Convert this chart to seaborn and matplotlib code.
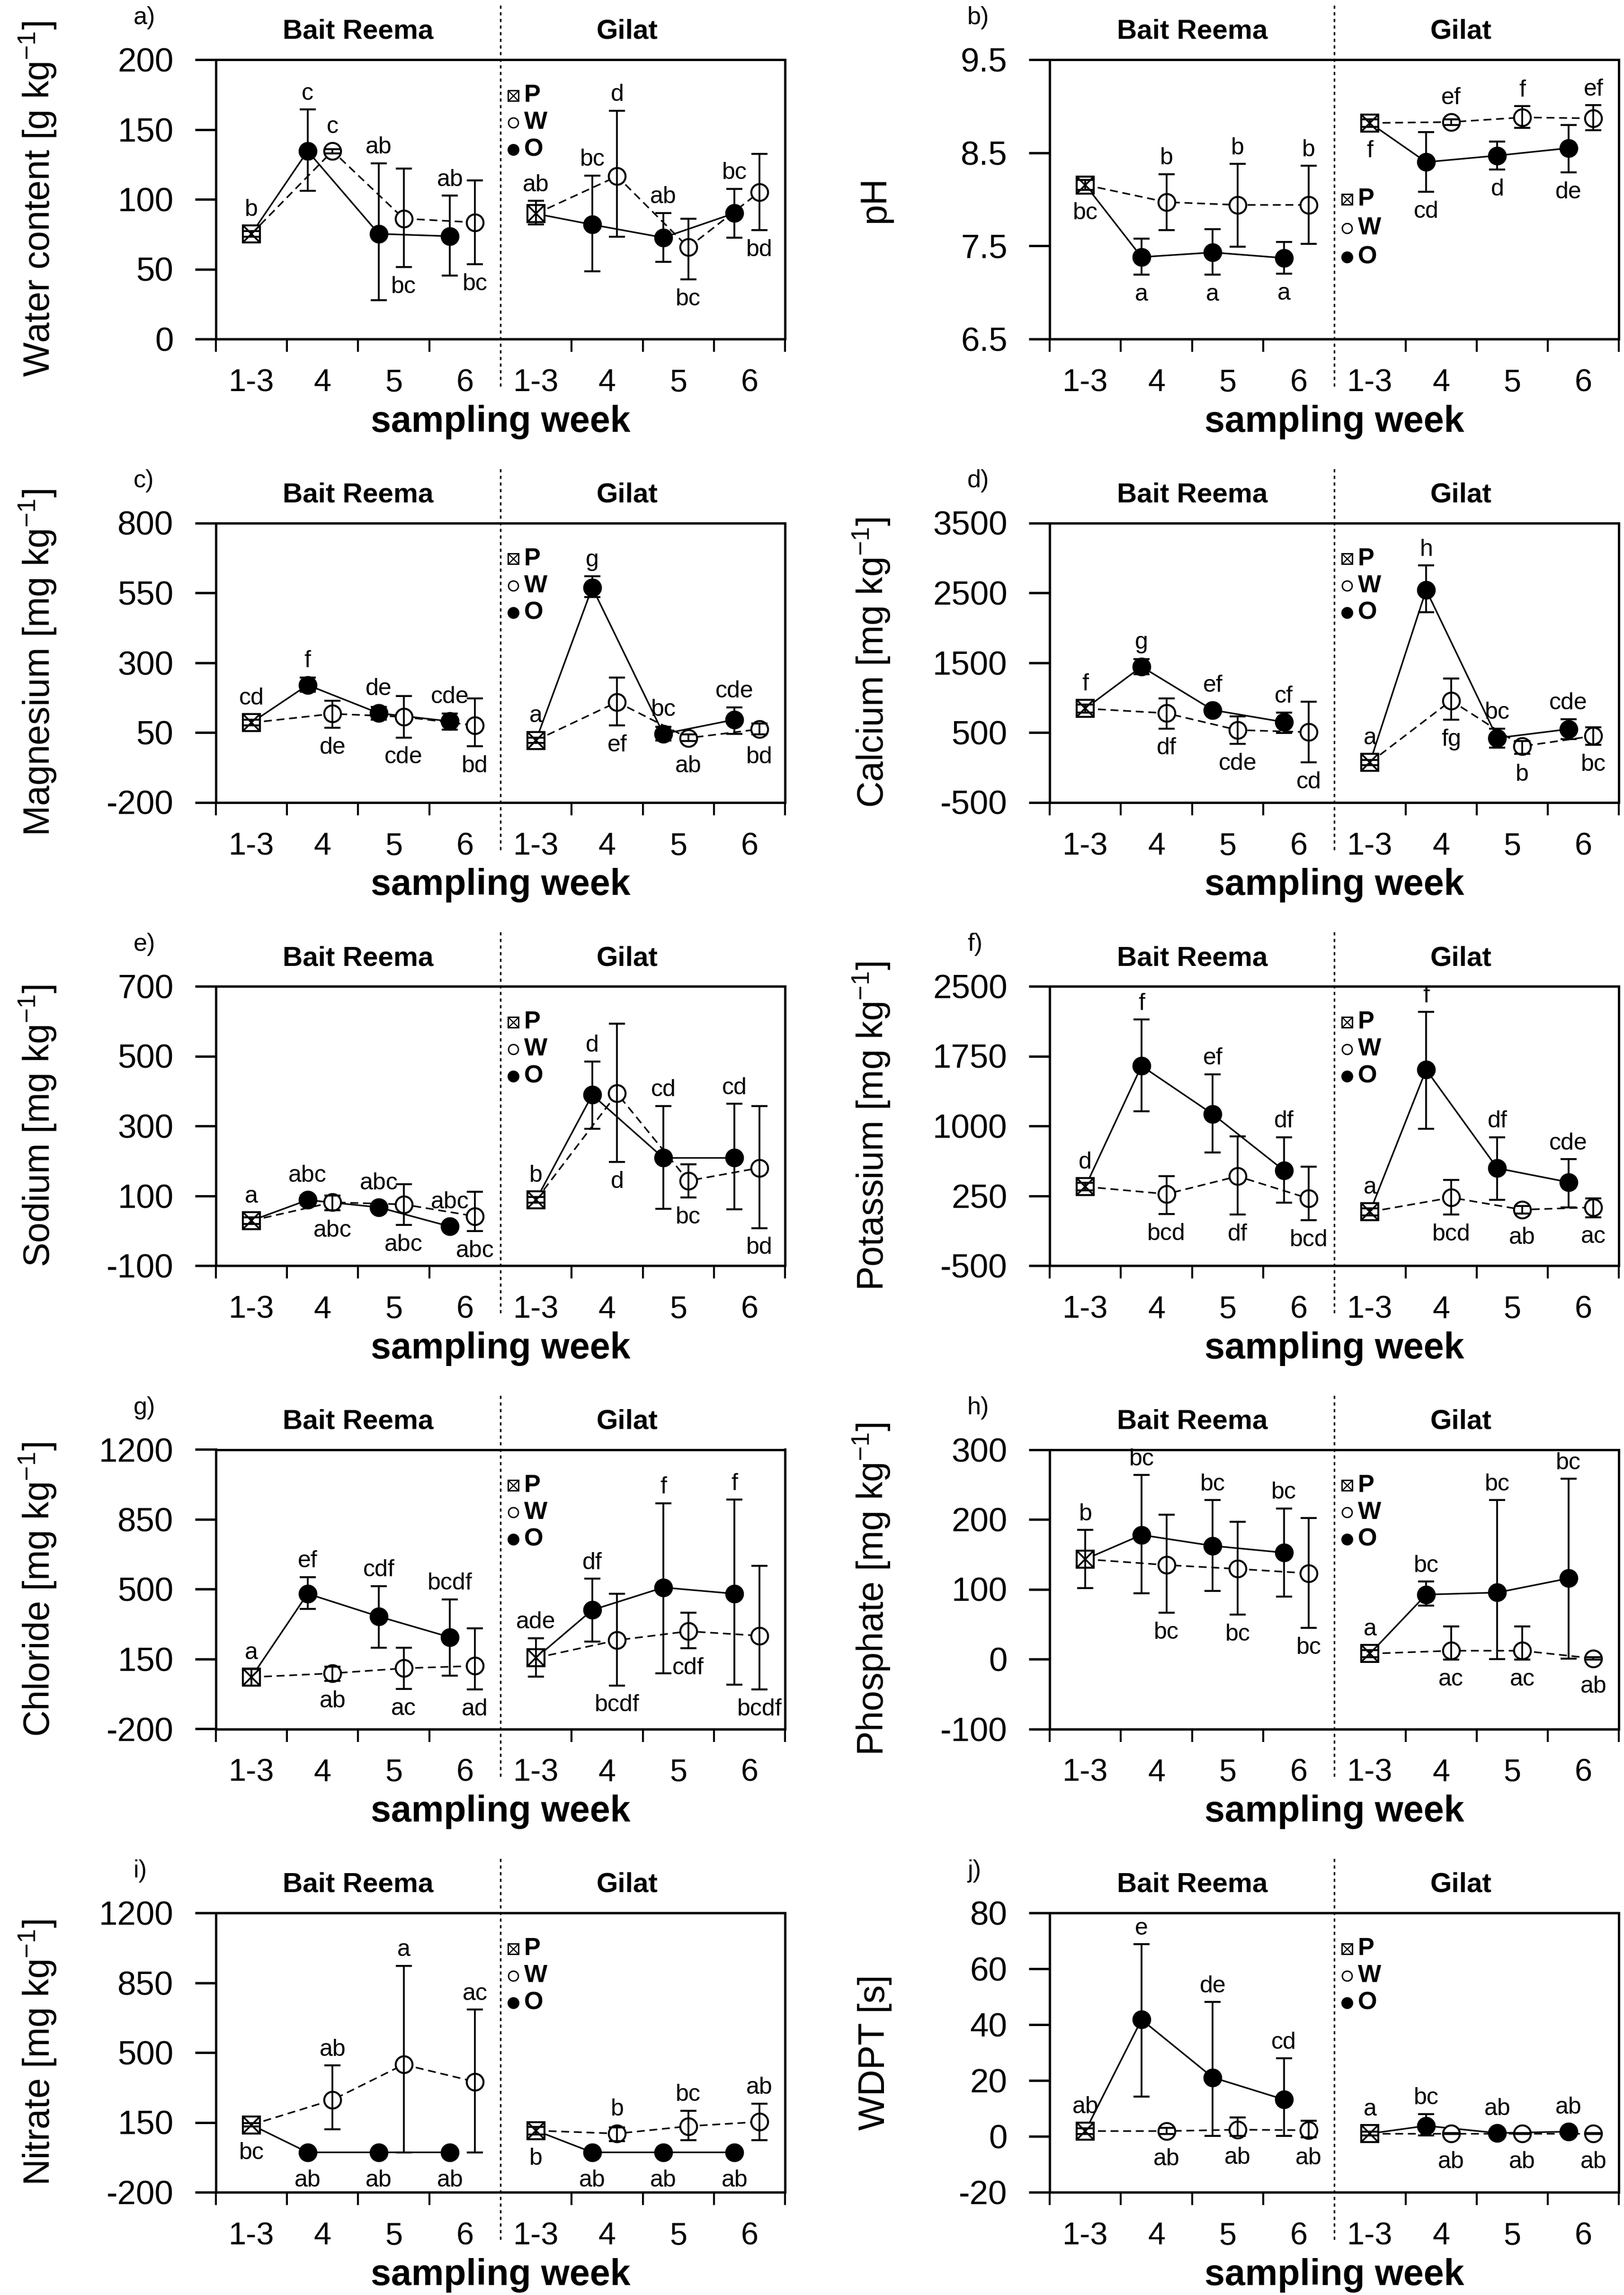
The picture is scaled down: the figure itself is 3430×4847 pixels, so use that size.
"""
Soil properties of P, W and O samples at Bait Reema and Gilat
over the sampling weeks, ten panels a) - j).
Saves out.png
"""

import matplotlib.pyplot as plt
import matplotlib.transforms as mtransforms
import seaborn as sns

WEEKS = ["1-3", "4", "5", "6"]
SITES = ["Bait Reema", "Gilat"]
SERIES = ["P", "W", "O"]

PANELS = ["a)", "b)", "c)", "d)", "e)", "f)", "g)", "h)", "i)", "j)"]
YLABELS = [
    "Water content [g kg$^{-1}$]",
    "pH",
    "Magnesium [mg kg$^{-1}$]",
    "Calcium [mg kg$^{-1}$]",
    "Sodium [mg kg$^{-1}$]",
    "Potassium [mg kg$^{-1}$]",
    "Chloride [mg kg$^{-1}$]",
    "Phosphate [mg kg$^{-1}$]",
    "Nitrate [mg kg$^{-1}$]",
    "WDPT [s]",
]
YTICKS = [
    ["0", "50", "100", "150", "200"],
    ["6.5", "7.5", "8.5", "9.5"],
    ["-200", "50", "300", "550", "800"],
    ["-500", "500", "1500", "2500", "3500"],
    ["-100", "100", "300", "500", "700"],
    ["-500", "250", "1000", "1750", "2500"],
    ["-200", "150", "500", "850", "1200"],
    ["-100", "0", "100", "200", "300"],
    ["-200", "150", "500", "850", "1200"],
    ["-20", "0", "20", "40", "60", "80"],
]

# P (weeks 1-3): one value per site (Bait Reema, Gilat)
P_MEAN = [[75.3, 89.7], [8.155, 8.82], [85, 22], [843, 70], [28.8, 88],
          [348, 78], [59.5, 156], [143.1, 7.8], [138, 109], [1.9, 1.0]]
P_LO = [[73.3, 82], [8.10, 8.78], [75, 12], [783, 30], [20, 80],
        [308, 40], [18, 62.5], [101.7, 3], [130, 90], [0.9, 0.3]]
P_HI = [[77.3, 99], [8.21, 8.86], [95, 32], [903, 110], [38, 96],
        [388, 116], [100, 255.3], [185, 12.6], [146, 128], [2.9, 1.7]]

# O and W: Bait Reema weeks 4, 5, 6 then Gilat weeks 4, 5, 6
O_MEAN = [
    [134.6, 75.3, 73.6, 81.9, 72.6, 90.1],
    [7.38, 7.43, 7.37, 8.40, 8.47, 8.55],
    [220, 119, 90, 569, 45, 96],
    [1443, 822, 649, 2541, 421, 548],
    [88, 67, 12, 389, 208.5, 208.5],
    [1645, 1127, 523, 1604, 546, 396],
    [477.7, 363.5, 259.7, 396, 508.9, 477.7],
    [177.8, 162.2, 152.4, 92.4, 95.3, 115.6],
    [0, 0, 0, 0, 0, 0],
    [41.8, 21.1, 13.2, 3.8, 1.2, 1.7],
]
O_LO = [
    [106.2, 27.8, 45.4, 48.5, 55.3, 72.6],
    [7.19, 7.19, 7.20, 8.08, 8.32, 8.29],
    [196, 96, 61, 534, 22, 45],
    [1337, 772, 493, 2224, 281, 408],
    [75, 58, 3, 291.5, 62.7, 61],
    [1159, 714, 174, 968, 206, 126],
    [400.6, 207.8, 67, 237.5, 78.8, 22.5],
    [94.5, 97.5, 89.8, 76.3, 0.2, 1],
    [0, 0, 0, 0, 0, 0],
    [14.3, 0.1, 0.1, 0.3, 0.8, 1.2],
]
O_HI = [
    [164.3, 125.8, 102.7, 117.1, 90.3, 107.6],
    [7.58, 7.68, 7.54, 8.72, 8.62, 8.80],
    [247, 141, 117, 610, 71, 140],
    [1549, 872, 788, 2892, 556, 691],
    [101, 76, 21, 484.7, 357.6, 363.6],
    [2144, 1556, 879, 2223, 879, 644],
    [560.8, 516.3, 449.6, 553.4, 931.5, 949.3],
    [263.6, 227.7, 215.9, 111, 227.7, 258.1],
    [0, 0, 0, 0, 0, 0],
    [68.8, 48.1, 27.9, 8.0, 1.6, 2.2],
]
W_MEAN = [
    [134.6, 86.2, 83.5, 116.5, 65.6, 105.2],
    [7.97, 7.94, 7.94, 8.83, 8.88, 8.87],
    [117, 106, 75, 159, 30, 62],
    [776, 535, 505, 957, 303, 450],
    [81.4, 75.4, 41.5, 393, 143, 180],
    [269, 460, 221, 231, 101, 126],
    [78.8, 104, 115.9, 244.9, 289.4, 267.2],
    [134.7, 129.2, 122.8, 12, 12, 1],
    [263, 440, 354, 94, 131, 153],
    [1.9, 2.4, 2.2, 1.0, 1.0, 1.0],
]
W_LO = [
    [133, 51.5, 53.6, 73.2, 42.7, 77.9],
    [7.67, 7.49, 7.52, 8.80, 8.77, 8.74],
    [67, 32, 1, 75, 20, 43],
    [556, 336, 70, 683, 197, 324],
    [58.5, 16.1, -0.8, 196.6, 94.9, 7.6],
    [53, 47, -11, 47, 61, 21],
    [41.7, 0.2, -2.8, 18, 204.9, -2.8],
    [66.6, 63.6, 44.6, -0.6, -0.6, -1],
    [116, 0, 0, 57, 62, 62],
    [0.8, 0.1, -0.4, 0.8, 0.8, 0.8],
]
W_HI = [
    [136, 122, 113.4, 163.5, 86.2, 132.4],
    [8.27, 8.38, 8.36, 8.86, 9.00, 9.01],
    [164, 180, 172, 246, 43, 82],
    [987, 733, 944, 1274, 379, 577],
    [100.8, 133, 111.9, 592.4, 189.8, 357.6],
    [460, 889, 561, 422, 141, 221],
    [111, 207.8, 304.2, 477.7, 382.8, 618.6],
    [206.6, 196.8, 201.9, 46.7, 46.7, 3],
    [435, 935, 715, 126, 209, 244],
    [3.0, 6.7, 5.6, 1.2, 1.2, 1.2],
]

# significance letters, and whether they sit above (^) or below (v)
P_LET = [["b", "ab"], ["bc", "f"], ["cd", "a"], ["f", "a"], ["a", "b"],
         ["d", "a"], ["a", "ade"], ["b", "a"], ["bc", "b"], ["ab", "a"]]
P_SIDE = ["^^", "vv", "^^", "^^", "^^", "^^", "^^", "^^", "vv", "^^"]
O_LET = [
    ["c", "ab", "ab", "bc", "ab", "bc"],
    ["a", "a", "a", "cd", "d", "de"],
    ["f", "de", "cde", "g", "bc", "cde"],
    ["g", "ef", "cf", "h", "bc", "cde"],
    ["abc", "abc", "abc", "d", "cd", "cd"],
    ["f", "ef", "df", "f", "df", "cde"],
    ["ef", "cdf", "bcdf", "df", "f", "f"],
    ["bc", "bc", "bc", "bc", "bc", "bc"],
    ["ab", "ab", "ab", "ab", "ab", "ab"],
    ["e", "de", "cd", "bc", "ab", "ab"],
]
O_SIDE = ["^^^^^^", "vvvvvv", "^^^^^^", "^^^^^^", "^^^^^^",
          "^^^^^^", "^^^^^^", "^^^^^^", "vvvvvv", "^^^^^^"]
W_LET = [
    ["c", "bc", "bc", "d", "bc", "bd"],
    ["b", "b", "b", "ef", "f", "ef"],
    ["de", "cde", "bd", "ef", "ab", "bd"],
    ["df", "cde", "cd", "fg", "b", "bc"],
    ["abc", "abc", "abc", "d", "bc", "bd"],
    ["bcd", "df", "bcd", "bcd", "ab", "ac"],
    ["ab", "ac", "ad", "bcdf", "cdf", "bcdf"],
    ["bc", "bc", "bc", "ac", "ac", "ab"],
    ["ab", "a", "ac", "b", "bc", "ab"],
    ["ab", "ab", "ab", "ab", "ab", "ab"],
]
W_SIDE = ["^vv^vv", "^^^^^^", "vvvvvv", "vvvvvv", "vvvvvv",
          "vvvvvv", "vvvvvv", "vvvvvv", "^^^^^^", "vvvvvv"]

# layout
O_SHIFT = -0.21
W_SHIFT = 0.14
MS = 8.5
LEG_Y = [0.872, 0.50, 0.872, 0.872, 0.872, 0.872, 0.872, 0.872, 0.872,
         0.872]
LEG_STEP = [0.097, 0.103]


def _letter(ax, x, y, lo, hi, text, side):
    """
    writes a significance letter just above the upper error bar
    (or below the lower one), never inside the marker
    """
    to_pt = 72.0 / ax.figure.dpi
    ypix = ax.transData.transform((x, y))[1]
    if side == "^":
        gap = (ax.transData.transform((x, hi))[1] - ypix) * to_pt
        off = max(gap, MS / 2) + 2.5
        va = "bottom"
    else:
        gap = (ypix - ax.transData.transform((x, lo))[1]) * to_pt
        off = -(max(gap, MS / 2) + 4.5)
        va = "top"
    ax.annotate(text, (x, y), xytext=(0, off), textcoords="offset points",
                ha="center", va=va, fontsize=12)


def _errbar(ax, x, y, lo, hi):
    yerr = [[yy - ll for yy, ll in zip(y, lo)],
            [hh - yy for yy, hh in zip(y, hi)]]
    ax.errorbar(x, y, yerr=yerr, fmt="none", ecolor="black",
                elinewidth=0.9, capsize=4, capthick=1.0, zorder=4)


def _site(ax, k, s):
    base = 4 * s
    sl = slice(3 * s, 3 * s + 3)
    xp = [base]
    xo = [base + i + O_SHIFT for i in (1, 2, 3)]
    xw = [base + i + W_SHIFT for i in (1, 2, 3)]
    p = [P_MEAN[k][s]]
    o, o_lo, o_hi = O_MEAN[k][sl], O_LO[k][sl], O_HI[k][sl]
    w, w_lo, w_hi = W_MEAN[k][sl], W_LO[k][sl], W_HI[k][sl]

    # O joined with a solid line, W with a dashed one, both from P
    sns.lineplot(x=xp + xo, y=p + o, ax=ax, color="black", lw=0.8,
                 sort=False, estimator=None, zorder=2)
    sns.lineplot(x=xp + xw, y=p + w, ax=ax, color="black", lw=0.8,
                 linestyle=(0, (5, 3)), sort=False, estimator=None,
                 zorder=2)

    ax.plot(xp, p, ls="none", marker="s", ms=MS, mfc="white",
            mec="black", mew=1.0, zorder=3)
    ax.plot(xw, w, ls="none", marker="o", ms=MS, mfc="white",
            mec="black", mew=1.0, zorder=3)
    ax.plot(xo, o, ls="none", marker="o", ms=MS, mfc="black",
            mec="black", mew=1.0, zorder=3)

    _errbar(ax, xp, p, [P_LO[k][s]], [P_HI[k][s]])
    _errbar(ax, xw, w, w_lo, w_hi)
    _errbar(ax, xo, o, o_lo, o_hi)
    ax.plot(xp, p, ls="none", marker="x", ms=MS, mec="black", mew=0.9,
            zorder=5)

    _letter(ax, xp[0], p[0], P_LO[k][s], P_HI[k][s], P_LET[k][s],
            P_SIDE[k][s])
    for i in range(3):
        _letter(ax, xo[i], o[i], o_lo[i], o_hi[i], O_LET[k][3 * s + i],
                O_SIDE[k][3 * s + i])
        _letter(ax, xw[i], w[i], w_lo[i], w_hi[i], W_LET[k][3 * s + i],
                W_SIDE[k][3 * s + i])


def _legend(ax, k):
    blend = mtransforms.blended_transform_factory(ax.transData,
                                                  ax.transAxes)
    step = LEG_STEP[1] if k == 1 else LEG_STEP[0]
    for i, name in enumerate(SERIES):
        y = LEG_Y[k] - i * step
        if name == "P":
            ax.plot([3.68], [y], marker="s", ms=5.5, mfc="white",
                    mec="black", mew=0.7, transform=blend, clip_on=False)
            ax.plot([3.68], [y], marker="x", ms=5.5, mec="black",
                    mew=0.6, transform=blend, clip_on=False)
        elif name == "W":
            ax.plot([3.68], [y], marker="o", ms=5, mfc="white",
                    mec="black", mew=0.7, transform=blend, clip_on=False)
        else:
            ax.plot([3.68], [y], marker="o", ms=5, mfc="black",
                    mec="black", transform=blend, clip_on=False)
        ax.text(3.83, y, name, transform=blend, ha="left", va="center",
                fontsize=12.5, fontweight="bold")


def draw_panel(ax, k):
    ticks = [float(t) for t in YTICKS[k]]
    ax.set_xlim(-0.5, 7.5)
    ax.set_ylim(ticks[0], ticks[-1])

    for s in range(2):
        _site(ax, k, s)
    _legend(ax, k)

    blend = mtransforms.blended_transform_factory(ax.transData,
                                                  ax.transAxes)
    # dotted divider between the two sites
    ax.plot([3.5, 3.5], [-0.17, 1.2], transform=blend, clip_on=False,
            color="black", lw=0.8, ls=(0, (2, 2.2)))
    ax.text(1.5, 1.10, SITES[0], transform=blend, ha="center",
            va="center", fontsize=14, fontweight="bold")
    ax.text(5.28, 1.10, SITES[1], transform=blend, ha="center",
            va="center", fontsize=14, fontweight="bold")
    ax.text(-0.145, 1.15, PANELS[k], transform=ax.transAxes, ha="left",
            va="center", fontsize=12.5)

    ax.set_yticks(ticks)
    ax.set_yticklabels(YTICKS[k])
    ax.tick_params(axis="y", which="major", direction="out", length=10.5,
                   width=1.2, labelsize=17, pad=11, left=True,
                   right=False)

    # ticks between the weeks, labels in the middle of each week
    ax.set_xticks([-0.5, 0.5, 1.5, 2.5, 4.5, 5.5, 6.5, 7.5])
    ax.set_xticklabels([])
    ax.set_xticks(range(8), minor=True)
    ax.set_xticklabels(WEEKS * 2, minor=True)
    ax.tick_params(axis="x", which="major", direction="out", length=6.5,
                   width=1.0, top=False)
    ax.tick_params(axis="x", which="minor", length=0, pad=15,
                   labelsize=16, top=False)

    for sp in ax.spines.values():
        sp.set_linewidth(1.2)
        sp.set_color("black")

    ax.set_xlabel("sampling week", fontsize=18.5, fontweight="bold")
    ax.xaxis.set_label_coords(0.5, -0.235)
    ax.set_ylabel(YLABELS[k], fontsize=18.5)
    ax.yaxis.set_label_coords(-0.277, 0.5)

    ax.set_xlim(-0.5, 7.5)
    ax.set_ylim(ticks[0], ticks[-1])


def main():
    sns.set_theme(style="ticks")
    plt.rcParams["font.family"] = ["Liberation Sans", "DejaVu Sans"]
    plt.rcParams["mathtext.fontset"] = "custom"
    plt.rcParams["mathtext.rm"] = "Liberation Sans"
    plt.rcParams["mathtext.it"] = "Liberation Sans:italic"
    plt.rcParams["mathtext.bf"] = "Liberation Sans:bold"
    plt.rcParams["axes.unicode_minus"] = False
    for key in ["text.color", "axes.labelcolor", "xtick.color",
                "ytick.color", "axes.edgecolor"]:
        plt.rcParams[key] = "black"
    # long outward y ticks with the labels well clear of them
    plt.rcParams["ytick.direction"] = "out"
    plt.rcParams["ytick.major.size"] = 10.5
    plt.rcParams["ytick.major.width"] = 1.2
    plt.rcParams["ytick.major.pad"] = 11

    fig = plt.figure(figsize=(3430 / 300, 4847 / 300), dpi=300)
    for k in range(10):
        row, col = divmod(k, 2)
        left = [0.1329, 0.6464][col]
        bottom = 1 - (716 + 978.5 * row) / 4847
        ax = fig.add_axes([left, bottom, 0.3505, 590 / 4847])
        draw_panel(ax, k)

    fig.savefig("out.png", dpi=300)


if __name__ == "__main__":
    main()
